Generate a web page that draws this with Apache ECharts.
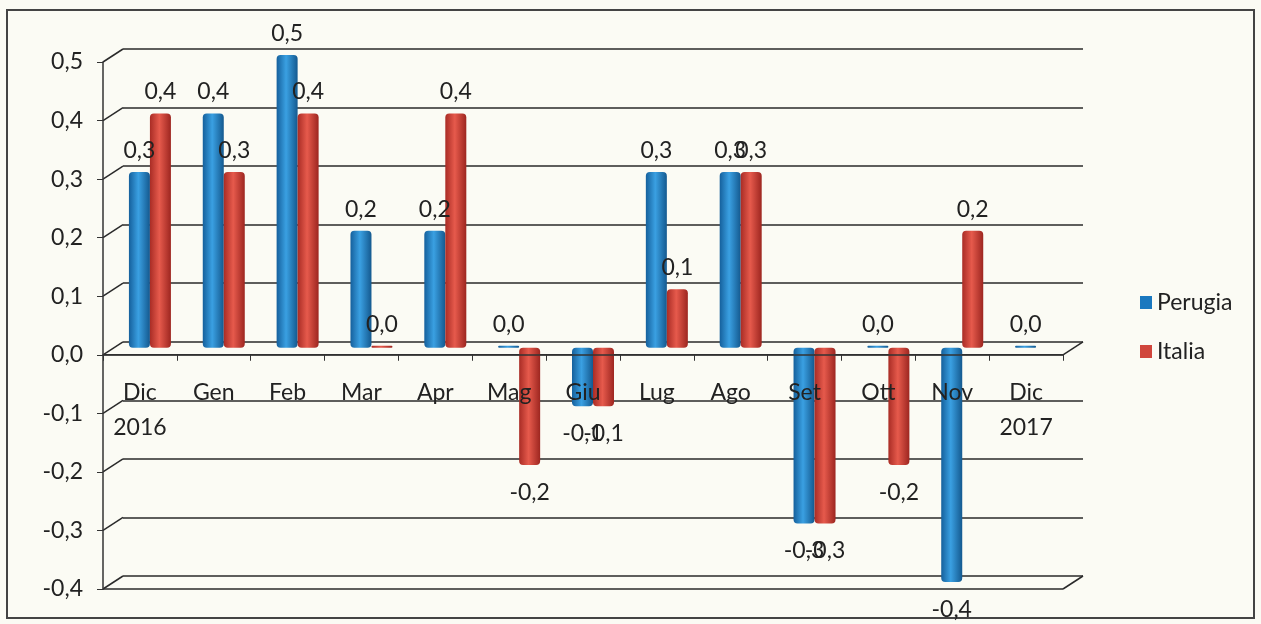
<!DOCTYPE html>
<html><head><meta charset="utf-8">
<script src="https://cdn.jsdelivr.net/npm/echarts@6/dist/echarts.min.js"></script>
<style>html,body{margin:0;padding:0;background:#fbfbf4}#c{width:1261px;height:624px}</style>
</head><body><div id="c"></div>
<script>
const categories = ['Dic\n2016','Gen','Feb','Mar','Apr','Mag','Giu','Lug','Ago','Set','Ott','Nov','Dic\n2017'];
const perugia = [0.3,0.4,0.5,0.2,0.2,0.0,-0.1,0.3,0.3,-0.3,0.0,-0.4,0.0];
const italia  = [0.4,0.3,0.4,0.0,0.4,-0.2,-0.1,0.1,0.3,-0.3,-0.2,0.2,null];
const yTicks = [-0.4,-0.3,-0.2,-0.1,0.0,0.1,0.2,0.3,0.4,0.5];

const FONT = 'Lato, "Open Sans", sans-serif';
const FS = 23;
const fmt = v => v.toFixed(1).replace('.', ',');
const W = 960, H = 527, L = 103, T = 62;
const DX = 20, DY = -13;      // back wall offset
const BX = 10, BY = -7;       // bar depth offset
const YMIN = -0.4, YMAX = 0.5;
const zeroOffset = -H * (0 - YMIN) / (YMAX - YMIN);

function grad(c1, c2, c3) {
  return {type:'linear',x:0,y:0,x2:1,y2:0,colorStops:[{offset:0,color:c1},{offset:0.45,color:c2},{offset:1,color:c3}]};
}
const blue = grad('#15609c','#3aa0e2','#14598f');
const red = grad('#a92c25','#e65a4c','#9d2620');

function mkData(arr) {
  return arr.map(v => v === null ? null : {
    value: v,
    label: v < 0 ? {position:'bottom', distance:16} : {position:'top', distance:10}
  });
}

const chart = echarts.init(document.getElementById('c'));
const yBase = {type:'value', min:YMIN, max:YMAX, interval:0.1};
chart.setOption({
  backgroundColor:'#fbfbf4',
  animation:false,
  legend:{
    orient:'vertical', left:1135, top:286, itemGap:26, itemWidth:12, itemHeight:13,
    icon:'rect', textStyle:{fontFamily:FONT, fontSize:FS, color:'#222'},
    data:[{name:'Perugia',itemStyle:{color:'#1a78bf'}},{name:'Italia',itemStyle:{color:'#d0463c'}}]
  },
  grid:[
    {left:L, top:T, width:W, height:H, outerBoundsMode:'none', containLabel:false},
    {left:L+DX, top:T+DY, width:W, height:H, outerBoundsMode:'none', containLabel:false},
    {left:L+BX, top:T+BY, width:W, height:H, outerBoundsMode:'none', containLabel:false}
  ],
  xAxis:[
    {gridIndex:0, type:'category', data:categories, position:'bottom', offset:zeroOffset, z:10,
     axisLine:{onZero:false, lineStyle:{color:'#333', width:1.5}},
     axisTick:{show:true, length:6, lineStyle:{color:'#333'}},
     axisLabel:{fontFamily:FONT, fontSize:FS, color:'#222', margin:20, lineHeight:35}},
    {gridIndex:1, type:'category', data:categories, show:false},
    {gridIndex:2, type:'category', data:categories, show:false}
  ],
  yAxis:[
    Object.assign({gridIndex:0}, yBase, {
      axisLine:{show:true, lineStyle:{color:'#333', width:1.5}},
      axisTick:{show:true, length:6, lineStyle:{color:'#333'}},
      splitLine:{show:false},
      axisLabel:{fontFamily:FONT, fontSize:FS, color:'#222', margin:20, formatter:v=>fmt(v)}
    }),
    Object.assign({gridIndex:1}, yBase, {
      axisLine:{show:false}, axisTick:{show:false}, axisLabel:{show:false},
      splitLine:{show:true, lineStyle:{color:'#2a2a2a', width:1.5}}
    }),
    Object.assign({gridIndex:2}, yBase, {show:false, splitLine:{show:false}})
  ],
  series:[
    {name:'Perugia', type:'bar', xAxisIndex:2, yAxisIndex:2, data:mkData(perugia), barWidth:21, barGap:'0%', barMinHeight:2,
     itemStyle:{color:blue, borderRadius:[4,4,4,4]},
     label:{show:true, fontFamily:FONT, fontSize:FS, color:'#222', formatter:p=>fmt(p.value)}},
    {name:'Italia', type:'bar', xAxisIndex:2, yAxisIndex:2, data:mkData(italia), barWidth:21, barGap:'0%', barMinHeight:2,
     itemStyle:{color:red, borderRadius:[4,4,4,4]},
     label:{show:true, fontFamily:FONT, fontSize:FS, color:'#222', formatter:p=>fmt(p.value)}}
  ]
});

// 3D wall diagonals and floor edges
const g = [];
yTicks.forEach(v => {
  const y = chart.convertToPixel({yAxisIndex:0}, v);
  g.push({type:'line', shape:{x1:L, y1:y, x2:L+DX, y2:y+DY}, style:{stroke:'#2a2a2a', lineWidth:1.5}});
});
[YMIN, 0].forEach(v => {
  const y = chart.convertToPixel({yAxisIndex:0}, v);
  g.push({type:'line', shape:{x1:L, y1:y, x2:L+W, y2:y}, style:{stroke:'#2a2a2a', lineWidth:1.5}});
  g.push({type:'line', shape:{x1:L+W, y1:y, x2:L+W+DX, y2:y+DY}, style:{stroke:'#2a2a2a', lineWidth:1.5}});
});
g.push({type:'rect', shape:{x:7, y:10, width:1247, height:608}, style:{fill:null, stroke:'#444', lineWidth:2}, z:-1});
chart.setOption({graphic:g});
</script>
</body></html>
